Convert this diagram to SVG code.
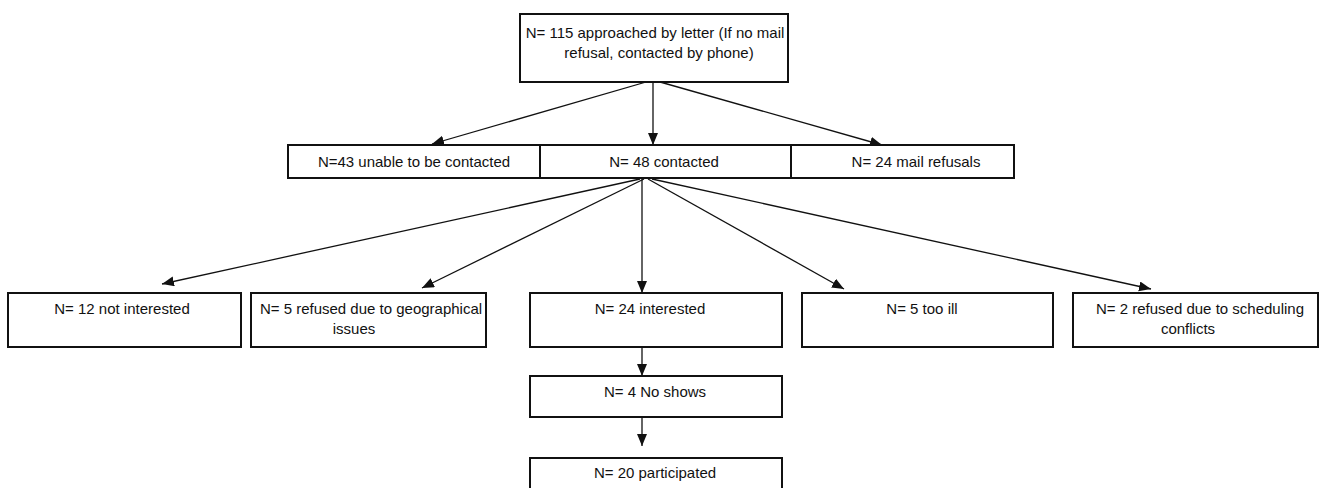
<svg xmlns="http://www.w3.org/2000/svg" width="1325" height="488" viewBox="0 0 1325 488">
<style>
.box{fill:#fff;stroke:#111;stroke-width:2}
.t{font-family:"Liberation Sans",Arial,sans-serif;font-size:15px;fill:#111;text-anchor:middle}
.c{stroke:#111;stroke-width:1.3;fill:none;marker-end:url(#ah)}
</style>
<defs>
<marker id="ah" markerUnits="userSpaceOnUse" markerWidth="14" markerHeight="12" refX="12" refY="5" orient="auto">
<path d="M0,0 L12,5 L0,10 Z" fill="#111"/>
</marker>
</defs>
<rect width="1325" height="488" fill="#fff"/>
<g id="connectors">
<line class="c" x1="653" y1="80" x2="653" y2="145"/>
<line class="c" x1="653" y1="80" x2="432" y2="144"/>
<line class="c" x1="653" y1="80" x2="882" y2="145"/>
<line class="c" x1="640" y1="179" x2="162" y2="284"/>
<line class="c" x1="644" y1="179" x2="422" y2="288"/>
<line class="c" x1="642" y1="179" x2="642" y2="293"/>
<line class="c" x1="648" y1="179" x2="844" y2="289"/>
<line class="c" x1="652" y1="179" x2="1151" y2="289"/>
<line class="c" x1="642" y1="343" x2="642" y2="376"/>
<line class="c" x1="642" y1="408" x2="642" y2="446"/>
</g>
<g id="n-approached">
<rect class="box" x="520" y="14" width="268" height="68"/>
<text class="t" x="655" y="38">N= 115 approached by letter (If no mail</text>
<text class="t" x="659" y="58">refusal, contacted by phone)</text>
</g>
<g id="n-unable">
<rect class="box" x="288" y="145" width="252" height="33"/>
<text class="t" x="414" y="167">N=43 unable to be contacted</text>
</g>
<g id="n-contacted">
<rect class="box" x="540" y="145" width="251" height="33"/>
<text class="t" x="664" y="167">N= 48 contacted</text>
</g>
<g id="n-mail">
<rect class="box" x="791" y="145" width="223" height="33"/>
<text class="t" x="916" y="167">N= 24 mail refusals</text>
</g>
<g id="n-notinterested">
<rect class="box" x="8" y="293" width="233" height="54"/>
<text class="t" x="122" y="314">N= 12 not interested</text>
</g>
<g id="n-geo">
<rect class="box" x="251" y="293" width="235" height="54"/>
<text class="t" x="371" y="314">N= 5 refused due to geographical</text>
<text class="t" x="354" y="334">issues</text>
</g>
<g id="n-interested">
<rect class="box" x="530" y="293" width="252" height="54"/>
<text class="t" x="650" y="314">N= 24 interested</text>
</g>
<g id="n-ill">
<rect class="box" x="802" y="293" width="251" height="54"/>
<text class="t" x="922" y="314">N= 5 too ill</text>
</g>
<g id="n-scheduling">
<rect class="box" x="1073" y="293" width="245" height="54"/>
<text class="t" x="1200" y="314">N= 2 refused due to scheduling</text>
<text class="t" x="1188" y="334">conflicts</text>
</g>
<g id="n-noshows">
<rect class="box" x="530" y="376" width="252" height="41"/>
<text class="t" x="655" y="397">N= 4 No shows</text>
</g>
<g id="n-participated">
<rect class="box" x="530" y="458" width="252" height="40"/>
<text class="t" x="655" y="478">N= 20 participated</text>
</g>
</svg>
